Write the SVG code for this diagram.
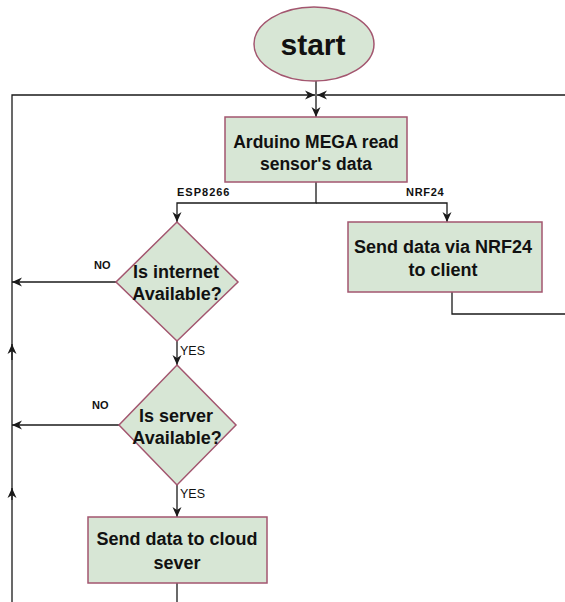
<svg xmlns="http://www.w3.org/2000/svg" width="565" height="602" viewBox="0 0 565 602">
<defs>
<marker id="ah" viewBox="0 0 10 10" refX="10" refY="5" markerWidth="10" markerHeight="10" markerUnits="userSpaceOnUse" orient="auto">
<path d="M0,0.5 L10,5 L0,9.5 L3,5 Z" fill="#1a1a1a"/>
</marker>
<style>
.n{fill:#d7e6d5;stroke:#a3566f;stroke-width:1.5}
.c{fill:none;stroke:#1a1a1a;stroke-width:1.3}
.t{font-family:"Liberation Sans",Arial,sans-serif;font-weight:bold;font-size:18px;fill:#111;text-anchor:middle}
.l{font-family:"Liberation Sans",Arial,sans-serif;font-size:11px;fill:#111}
</style>
</defs>
<rect width="565" height="602" fill="#fff"/>
<g id="connectors">
<path class="c" d="M12,602 V95 H315" marker-end="url(#ah)"/>
<path class="c" d="M565,95 H317" marker-end="url(#ah)"/>
<path class="c" d="M316,81 V117" marker-end="url(#ah)"/>
<path class="c" d="M316,182 V203 H177 V222" marker-end="url(#ah)"/>
<path class="c" d="M316,203 H447 V222" marker-end="url(#ah)"/>
<path class="c" d="M452,292 V314 H565"/>
<path class="c" d="M116,282 H12" marker-end="url(#ah)"/>
<path class="c" d="M177,341 V365" marker-end="url(#ah)"/>
<path class="c" d="M119,425 H12" marker-end="url(#ah)"/>
<path class="c" d="M177,485 V517" marker-end="url(#ah)"/>
<path class="c" d="M177,583 V602"/>
<path class="c" d="M12,360 V344" marker-end="url(#ah)"/>
<path class="c" d="M12,500 V488" marker-end="url(#ah)"/>
<text class="l" x="177" y="196" style="font-weight:bold;letter-spacing:1px">ESP8266</text>
<text class="l" x="406" y="196" style="font-weight:bold;letter-spacing:0.7px">NRF24</text>
<text class="l" x="94" y="269" style="font-weight:bold">NO</text>
<text class="l" x="92" y="409" style="font-weight:bold">NO</text>
<text class="l" x="180" y="355" style="font-size:12.5px">YES</text>
<text class="l" x="180" y="498" style="font-size:12.5px">YES</text>
</g>
<g id="start">
<ellipse class="n" cx="314" cy="44" rx="60" ry="37"/>
<text class="t" x="313" y="55" style="font-size:30px">start</text>
</g>
<g id="read">
<rect class="n" x="225" y="117" width="182" height="65"/>
<text class="t" x="316" y="147.5" style="font-size:17.5px">Arduino MEGA read</text>
<text class="t" x="316" y="169.5" style="font-size:17.5px">sensor's data</text>
</g>
<g id="internet">
<polygon class="n" points="177,222 238,282 177,341 116,282"/>
<text class="t" x="176" y="277.5">Is internet</text>
<text class="t" x="177" y="299.5">Available?</text>
</g>
<g id="nrf">
<rect class="n" x="348" y="222" width="194" height="70"/>
<text class="t" x="443" y="253">Send data via NRF24</text>
<text class="t" x="443" y="276">to client</text>
</g>
<g id="server">
<polygon class="n" points="177,365 236,425 177,485 119,425"/>
<text class="t" x="176" y="421.5">Is server</text>
<text class="t" x="177" y="443.5">Available?</text>
</g>
<g id="cloud">
<rect class="n" x="88" y="517" width="179" height="66"/>
<text class="t" x="177" y="544.5">Send data to cloud</text>
<text class="t" x="177" y="568.5">sever</text>
</g>
</svg>
